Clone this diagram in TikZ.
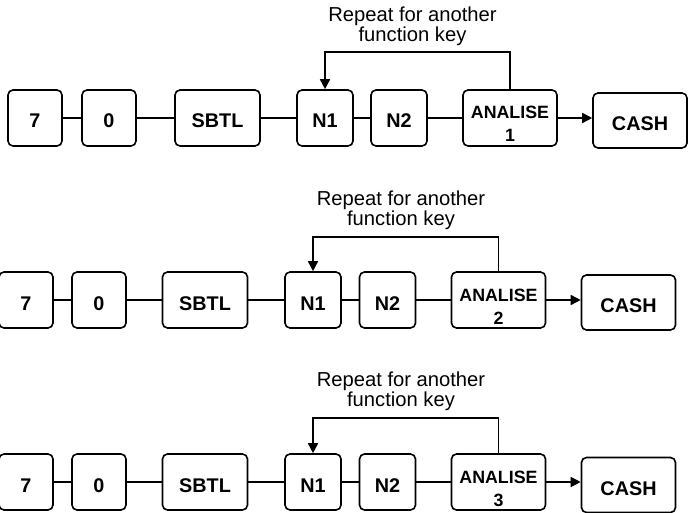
\documentclass[tikz,border=0pt]{standalone}
\usepackage{fontspec}
\setmainfont{Liberation Sans}
\usetikzlibrary{arrows.meta}
\tikzset{
  key/.style={draw, line width=1.6pt, rounded corners=5pt, minimum height=56pt,
    inner sep=0pt, font=\fontsize{19.8}{20}\selectfont\bfseries, align=center,
    text height=20pt, text depth=0pt},
  keyw/.style={key, minimum width=54pt},
  keyn/.style={key, minimum width=56pt},
  keyl/.style={key, minimum width=85pt},
  keya/.style={key, minimum width=94pt, font=\fontsize{17.8}{23}\selectfont\bfseries,
    text height=52pt, text depth=4pt},
  keyc/.style={key, minimum width=94pt},
  link/.style={line width=1.6pt},
  arr/.style={line width=1.6pt, -{Triangle[length=10pt,width=10pt]}},
  note/.style={align=center, inner sep=0pt, font=\fontsize{20.2}{18.5}\selectfont}
}
\begin{document}
\begin{tikzpicture}[x=1pt,y=-1pt]
\useasboundingbox (0,0) rectangle (688,513);
% Row 1
\node[keyw] (a7) at (35,118) {7};
\node[keyw] (a0) at (109,118) {0};
\node[keyl] (asb) at (217.5,118) {SBTL};
\node[keyn] (an1) at (325,118) {N1};
\node[keyn] (an2) at (399,118) {N2};
\node[keya] (aan) at (510,118) {ANALISE\\1};
\node[keyc, minimum height=55pt] (aca) at (640,120.5) {CASH};
\node[note] (arep) at (412.5,26) {Repeat for another\\function key};
\draw[link] (a7) -- (a0);
\draw[link] (a0) -- (asb);
\draw[link] (asb) -- (an1);
\draw[link] (an1) -- (an2);
\draw[link] (an2) -- (aan);
\draw[arr] (aan.east) -- (aca.west |- aan.east);
\draw[arr] (aan.north) -- (aan.north |- 0,52) -| (an1.north);
% Row 2
\node[keyw] (b7) at (26,300) {7};
\node[keyw] (b0) at (99,300) {0};
\node[keyl] (bsb) at (205,300) {SBTL};
\node[keyn] (bn1) at (313,300) {N1};
\node[keyn] (bn2) at (387.5,300) {N2};
\node[keya, minimum height=54pt] (ban) at (498.5,300) {ANALISE\\2};
\node[keyc, minimum height=55pt] (bca) at (628.5,302.5) {CASH};
\node[note] (brep) at (401,210) {Repeat for another\\function key};
\draw[link] (b7) -- (b0);
\draw[link] (b0) -- (bsb);
\draw[link] (bsb) -- (bn1);
\draw[link] (bn1) -- (bn2);
\draw[link] (bn2) -- (ban);
\draw[arr] (ban.east) -- (bca.west |- ban.east);
\draw[arr] (ban.north) -- (ban.north |- 0,237) -| (bn1.north);
% Row 3
\node[keyw] (c7) at (26,482) {7};
\node[keyw] (c0) at (99,482) {0};
\node[keyl] (csb) at (205,482) {SBTL};
\node[keyn] (cn1) at (313,482) {N1};
\node[keyn] (cn2) at (387.5,482) {N2};
\node[keya] (can) at (498.5,482) {ANALISE\\3};
\node[keyc, minimum height=55pt] (cca) at (628.5,485) {CASH};
\node[note] (crep) at (401,391) {Repeat for another\\function key};
\draw[link] (c7) -- (c0);
\draw[link] (c0) -- (csb);
\draw[link] (csb) -- (cn1);
\draw[link] (cn1) -- (cn2);
\draw[link] (cn2) -- (can);
\draw[arr] (can.east) -- (cca.west |- can.east);
\draw[arr] (can.north) -- (can.north |- 0,418) -| (cn1.north);
\end{tikzpicture}
\end{document}
